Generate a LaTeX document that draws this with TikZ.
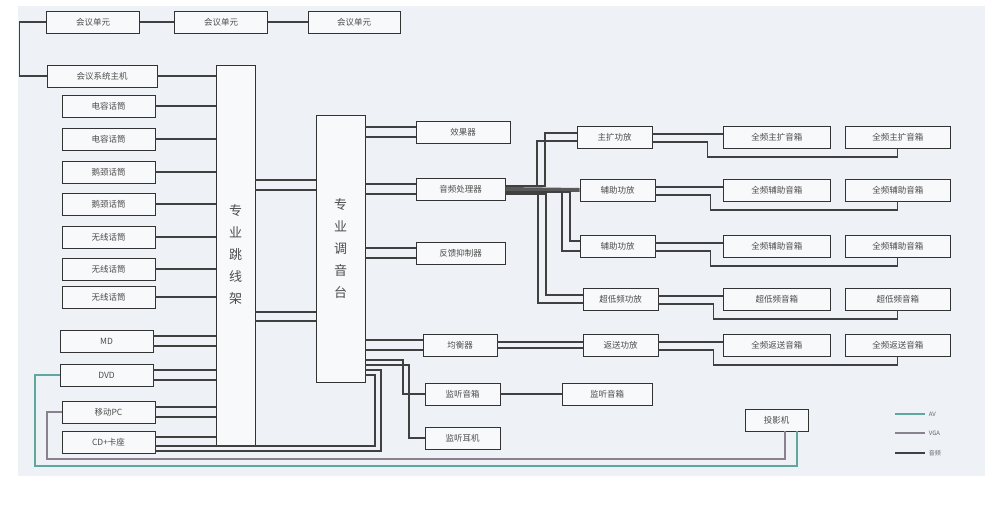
\documentclass[tikz,border=0pt]{standalone}
\usepackage{fontspec}
\newfontfamily\cjk{Noto Sans CJK SC}
\definecolor{avline}{HTML}{5FA8A0}
\definecolor{vgaline}{HTML}{8A8090}
\definecolor{bg}{HTML}{EEF1F5}
\tikzset{
  unit/.style={rectangle,draw=black!80,thick,fill=white!60!bg,minimum height=22pt,inner sep=1pt,font=\cjk\fontsize{8.5}{9}\selectfont,text=black!70},
  tall/.style={rectangle,draw=black!80,thick,fill=white!60!bg,font=\cjk\fontsize{13}{16}\selectfont,text=black!70,align=center},
  wire/.style={draw=black!75,line width=1.1pt},
  av/.style={draw=avline,line width=1.1pt},
  vga/.style={draw=vgaline,line width=1.1pt}
}
\begin{document}
\begin{tikzpicture}[x=1pt,y=-1pt]
\useasboundingbox (0,0) rectangle (1000,506);
\fill[bg] (18,6) rectangle (985,476);
% conference units
\node[unit,minimum width=93pt] (U1) at (93,22) {会议单元};
\node[unit,minimum width=93pt] (U2) at (221,22) {会议单元};
\node[unit,minimum width=92pt] (U3) at (354,22) {会议单元};
\node[unit,minimum width=110pt] (H) at (102,76) {会议系统主机};
\draw[wire] (U1) -- (U2); \draw[wire] (U2) -- (U3);
\draw[wire] (U1.west) -- ++(-27,0) |- (H.west);
% patch bay and mixer
\node[tall,minimum width=39pt,minimum height=380pt] (J) at (235.5,255) {专\\[6pt]业\\[6pt]跳\\[6pt]线\\[6pt]架};
\node[tall,minimum width=49pt,minimum height=267pt] (T) at (340.5,248.5) {专\\[6pt]业\\[6pt]调\\[6pt]音\\[6pt]台};
\draw[wire] (H.east) -- (H.east -| J.west);
% microphones
\foreach \t/\y [count=\i] in {电容话筒/106,电容话筒/139,鹅颈话筒/172,鹅颈话筒/204,无线话筒/237,无线话筒/269,无线话筒/297}{
  \node[unit,minimum width=93pt] (M\i) at (108.5,\y) {\t};
  \draw[wire] (M\i.east) -- (M\i.east -| J.west);
}
% sources
\node[unit,minimum width=93pt] (MD) at (106.5,341) {MD};
\node[unit,minimum width=93pt] (DVD) at (106.5,375) {DVD};
\node[unit,minimum width=93pt] (PC) at (108.5,412) {移动PC};
\node[unit,minimum width=93pt] (CD) at (108.5,442) {CD+卡座};
\foreach \n in {MD,DVD,PC}{
  \draw[wire] ([yshift=-5pt]\n.east) -- ([yshift=-5pt]\n.east -| J.west);
  \draw[wire] ([yshift=5pt]\n.east) -- ([yshift=5pt]\n.east -| J.west);
}
\draw[wire] ([yshift=5pt]CD.east) -- ([yshift=5pt]CD.east -| J.west);
\draw[wire] ([yshift=-4pt]CD.east) -- (375,446) -- (375,375) -- (365,375);
\draw[wire] ([yshift=-9pt]CD.east) -- (381,451) -- (381,370) -- (365,370);
% AV and VGA to projector
\node[unit,minimum width=63pt] (P) at (776.5,420) {投影机};
\draw[av] (DVD.west) -- (35,375) -- (35,466) -- (797,466) -- (797,431);
\draw[vga] (PC.west) -- (47,412) -- (47,459) -- (785,459) -- (785,431);
% patch bay to mixer
\foreach \y in {180,190,312,321}{ \draw[wire] (J.east |- 0,\y) -- (T.west |- 0,\y); }
% outboard
\node[unit,minimum width=94pt] (FX) at (463,132) {效果器};
\node[unit,minimum width=89pt] (AP) at (460.5,189) {音频处理器};
\node[unit,minimum width=89pt] (FB) at (460.5,253) {反馈抑制器};
\node[unit,minimum width=74pt] (EQ) at (460,345) {均衡器};
\node[unit,minimum width=75pt] (MS) at (462.5,394) {监听音箱};
\node[unit,minimum width=75pt] (MP) at (462.5,438) {监听耳机};
\node[unit,minimum width=90pt] (MS2) at (607,394) {监听音箱};
\foreach \n in {FX,AP,FB,EQ}{
  \draw[wire] ([yshift=-5pt]\n.west -| T.east) -- ([yshift=-5pt]\n.west);
  \draw[wire] ([yshift=5pt]\n.west -| T.east) -- ([yshift=5pt]\n.west);
}
\draw[wire] (365,360) -- (403,360) |- (MS.west);
\draw[wire] (365,365) -- (409,365) |- (MP.west);
\draw[wire] (MS) -- (MS2);
% amplifiers and speakers
\node[unit,minimum width=75pt] (A1) at (614.5,137) {主扩功放};
\node[unit,minimum width=75pt] (A2) at (617.5,190) {辅助功放};
\node[unit,minimum width=75pt] (A3) at (617.5,246) {辅助功放};
\node[unit,minimum width=75pt] (A4) at (620.5,299) {超低频功放};
\node[unit,minimum width=75pt] (A5) at (620.5,345) {返送功放};
\foreach \t/\u/\i in {全频主扩音箱/全频主扩音箱/1,全频辅助音箱/全频辅助音箱/2,全频辅助音箱/全频辅助音箱/3,超低频音箱/超低频音箱/4,全频返送音箱/全频返送音箱/5}{
  \node[unit,minimum width=107pt,anchor=west] (L\i) at (723,0 |- A\i) {\t};
  \node[unit,minimum width=105pt,anchor=west] (R\i) at (845,0 |- A\i) {\u};
  \draw[wire] ([yshift=3pt]A\i.east) -- ([yshift=3pt]A\i.east -| L\i.west);
  \draw[wire] ([yshift=-5pt]A\i.east) -- ++(55,0) |- ([yshift=-20pt]A\i.east -| R\i.south) -- (R\i.south);
}
\draw[wire] ([yshift=3pt]EQ.east) -- ([yshift=3pt]A5.west);
\draw[wire] ([yshift=-3pt]EQ.east) -- ([yshift=-3pt]A5.west);
% processor to amplifiers
\draw[black!65,line width=4pt] (AP.east) -- (A2.west);
\draw[wire] ([yshift=3pt]AP.east) -- (537,186) |- ([yshift=-4pt]A1.west);
\draw[wire] ([yshift=3pt]AP.east) -- (545,186) |- ([yshift=4pt]A1.west);
\draw[wire] ([yshift=-3pt]AP.east) -- (562,192) |- ([yshift=-5pt]A3.west);
\draw[wire] ([yshift=-3pt]AP.east) -- (570,192) |- ([yshift=5pt]A3.west);
\draw[wire] ([yshift=-5pt]AP.east) -- (538,194) |- ([yshift=-4pt]A4.west);
\draw[wire] ([yshift=-5pt]AP.east) -- (546,194) |- ([yshift=4pt]A4.west);
% legend
\coordinate (K1) at (895,414); \coordinate (K2) at (895,433); \coordinate (K3) at (895,453);
\draw[av] (K1) -- ++(30,0) node[right,font=\cjk\fontsize{6}{7}\selectfont,text=black!60]{AV};
\draw[vga] (K2) -- ++(30,0) node[right,font=\cjk\fontsize{6}{7}\selectfont,text=black!60]{VGA};
\draw[wire] (K3) -- ++(30,0) node[right,font=\cjk\fontsize{6}{7}\selectfont,text=black!60]{音频};
\end{tikzpicture}
\end{document}
